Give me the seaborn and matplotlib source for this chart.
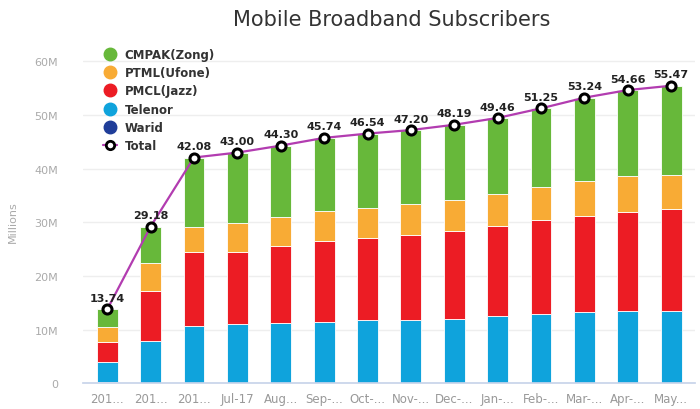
import numpy as np
import pandas as pd
import matplotlib
matplotlib.use("Agg")
import matplotlib.pyplot as plt
from matplotlib.lines import Line2D
import seaborn as sns

months = ["201...", "201...", "201...", "Jul-17", "Aug...", "Sep-...", "Oct-...",
          "Nov-...", "Dec-...", "Jan-...", "Feb-...", "Mar-...", "Apr-...", "May..."]
warid = [0.3, 0, 0, 0, 0, 0, 0, 0, 0, 0, 0, 0, 0, 0]
telenor = [3.7, 7.9, 10.7, 11.0, 11.2, 11.5, 11.7, 11.8, 12.0, 12.6, 12.9, 13.2, 13.5, 13.5]
jazz = [3.6, 9.2, 13.7, 13.4, 14.3, 15.0, 15.3, 15.9, 16.3, 16.7, 17.5, 18.0, 18.5, 18.9]
ufone = [2.8, 5.4, 4.7, 5.4, 5.4, 5.6, 5.7, 5.7, 5.9, 5.9, 6.1, 6.5, 6.6, 6.5]
zong = [3.34, 6.68, 12.98, 13.2, 13.4, 13.64, 13.84, 13.8, 13.99, 14.26, 14.75, 15.54, 16.06, 16.57]
total = [13.74, 29.18, 42.08, 43.00, 44.30, 45.74, 46.54, 47.20, 48.19, 49.46, 51.25, 53.24, 54.66, 55.47]

series = [("Warid", warid, "#1f3d99"),
          ("Telenor", telenor, "#0fa3dc"),
          ("PMCL(Jazz)", jazz, "#ec1c24"),
          ("PTML(Ufone)", ufone, "#f8ab35"),
          ("CMPAK(Zong)", zong, "#67b83a")]

sns.set_theme(style="white")
plt.rcParams['font.family'] = ['DejaVu Sans']

fig = plt.figure(figsize=(7, 4.1), dpi=100)
ax = fig.add_axes([0.119, 0.063, 0.874, 0.79])

x = np.arange(len(months))
bottom = np.zeros(len(months))
for name, vals, col in series:
    vals = np.array(vals, dtype=float)
    sns.barplot(x=np.arange(len(months)), y=vals, color=col, width=0.48,
                bottom=bottom, ax=ax, saturation=1, linewidth=0.6,
                edgecolor="white", native_scale=False)
    bottom = bottom + vals

sns.lineplot(x=x, y=total, ax=ax, color="#b23cb0", linewidth=1.6,
             marker="o", markersize=6.5, markerfacecolor="white",
             markeredgecolor="black", markeredgewidth=2.2, zorder=5)
for xi, t in zip(x, total):
    ax.text(xi, t + 1.2, f"{t:.2f}", ha="center", va="bottom", fontsize=8,
            fontweight="bold", color="#222222", zorder=6)

ax.set_xlim(-0.55, len(months) - 0.45)
ax.set_ylim(0, 60.4)
ax.set_yticks(np.arange(0, 61, 10))
ax.set_yticklabels(["0", "10M", "20M", "30M", "40M", "50M", "60M"])
ax.set_xticks(x)
ax.set_xticklabels(months)
ax.tick_params(axis="y", labelsize=8, colors="#aaaaaa", length=0, pad=18)
ax.tick_params(axis="x", labelsize=8.5, colors="#999999", length=3, pad=3,
               color="#c8d4ea")
ax.yaxis.grid(True, color="#eeeeee", linewidth=1)
ax.set_axisbelow(True)
for s in ["top", "right", "left"]:
    ax.spines[s].set_visible(False)
ax.spines["bottom"].set_color("#c8d4ea")
ax.set_xlabel("")
ax.set_ylabel("Millions", fontsize=8, color="#aaaaaa", labelpad=12)

fig.suptitle("Mobile Broadband Subscribers", x=0.56, y=0.975, fontsize=15,
             color="#333333")

handles = [Line2D([], [], linestyle="none", marker="o", markersize=9,
                  markerfacecolor=c, markeredgecolor=c) for _, _, c in reversed(series)]
labels = [n for n, _, _ in reversed(series)]
handles.append(Line2D([], [], color="#b23cb0", linewidth=1.6, marker="o",
                      markersize=6, markerfacecolor="white", markeredgecolor="black",
                      markeredgewidth=2))
labels.append("Total")
leg = ax.legend(handles, labels, loc="upper left", bbox_to_anchor=(0.025, 1.05),
                frameon=False, fontsize=8.5, handlelength=1.2, handletextpad=0.6,
                labelspacing=0.45, borderaxespad=0)
for t in leg.get_texts():
    t.set_fontweight("bold")
    t.set_color("#333333")

fig.savefig("out.png", dpi=100)
